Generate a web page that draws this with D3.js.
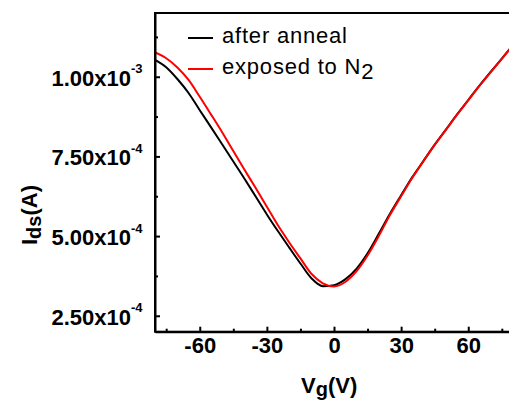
<!DOCTYPE html>
<html>
<head>
<meta charset="utf-8">
<script src="https://cdn.jsdelivr.net/npm/d3@7"></script>
<style>
  html, body { margin: 0; padding: 0; background: #fff; }
  svg { display: block; }
  text { font-family: "Liberation Sans", Arial, sans-serif; }
</style>
</head>
<body>
<svg id="chart" width="509" height="400"></svg>
<script>
// ---- data ----
const gateVoltage = [-80,-75,-70,-65,-60,-55,-50,-45,-40,-35,-30,-25,-20,-15,-10,-5,0,5,10,15,20,25,30,35,40,45,50,55,60,65,70,75,80];
const afterAnneal = [1.053e-3,1.030e-3,0.993e-3,0.949e-3,0.895e-3,0.842e-3,0.788e-3,0.734e-3,0.680e-3,0.624e-3,0.568e-3,0.515e-3,0.464e-3,0.414e-3,0.367e-3,0.343e-3,0.346e-3,0.364e-3,0.397e-3,0.446e-3,0.507e-3,0.570e-3,0.628e-3,0.685e-3,0.736e-3,0.787e-3,0.834e-3,0.882e-3,0.927e-3,0.972e-3,1.015e-3,1.057e-3,1.100e-3];
const exposedN2 = [1.076e-3,1.058e-3,1.029e-3,0.990e-3,0.937e-3,0.882e-3,0.826e-3,0.767e-3,0.708e-3,0.651e-3,0.592e-3,0.533e-3,0.480e-3,0.430e-3,0.381e-3,0.352e-3,0.342e-3,0.356e-3,0.389e-3,0.439e-3,0.500e-3,0.566e-3,0.625e-3,0.683e-3,0.735e-3,0.786e-3,0.833e-3,0.881e-3,0.926e-3,0.971e-3,1.014e-3,1.056e-3,1.099e-3];
const seriesNames = ["after anneal", "exposed to N"];
const seriesColors = ["#000000", "#ff0000"];
const xMajorTicks = [-60,-30,0,30,60];
const xMinorTicks = [-75,-45,-15,15,45,75];
const yMajorTicks = [2.5e-4,5.0e-4,7.5e-4,1.0e-3];
const yMinorTicks = [3.75e-4,6.25e-4,8.75e-4,1.125e-3];

// ---- layout ----
const svg = d3.select("#chart");
const L = 155, R = 513, T = 13, B = 331.7;
const x = d3.scaleLinear().domain([-80, 80]).range([L, R]);
const y = d3.scaleLinear().domain([2.0e-4, 1.2e-3]).range([B, T]);
const FONT = "Liberation Sans, Arial, sans-serif";

// frame
svg.append("rect").attr("x", L).attr("y", T).attr("width", R - L).attr("height", B - T)
  .attr("fill", "none").attr("stroke", "#000").attr("stroke-width", 2);

// curves
const line = d3.line().x((d, i) => x(gateVoltage[i])).y(d => y(d)).curve(d3.curveMonotoneX);
svg.append("clipPath").attr("id", "clip").append("rect")
  .attr("x", L).attr("y", T).attr("width", R - L).attr("height", B - T);
[afterAnneal, exposedN2].forEach((s, k) => {
  svg.append("path").datum(s).attr("d", line).attr("fill", "none")
    .attr("stroke", seriesColors[k]).attr("stroke-width", 2).attr("clip-path", "url(#clip)");
});

// x axis
const xAxis = svg.append("g").attr("transform", `translate(0,${B})`)
  .call(d3.axisBottom(x).tickValues(xMajorTicks).tickSize(-5).tickPadding(6).tickSizeOuter(0)
    .tickFormat(d => String(d)));
xAxis.select(".domain").attr("stroke-width", 2);
xAxis.selectAll(".tick line").attr("stroke-width", 2);
xAxis.selectAll(".tick text").attr("font-size", 22).attr("font-weight", "bold")
  .attr("fill", "#000").attr("font-family", FONT);
const xMinor = svg.append("g").attr("transform", `translate(0,${B})`)
  .call(d3.axisBottom(x).tickValues(xMinorTicks).tickSize(-3).tickFormat("").tickSizeOuter(0));
xMinor.select(".domain").remove();
xMinor.selectAll(".tick line").attr("stroke-width", 2);

// y axis
const yAxis = svg.append("g").attr("transform", `translate(${L},0)`)
  .call(d3.axisLeft(y).tickValues(yMajorTicks).tickSize(-5).tickPadding(24).tickSizeOuter(0).tickFormat(""));
yAxis.select(".domain").attr("stroke-width", 2);
yAxis.selectAll(".tick line").attr("stroke-width", 2);
yAxis.selectAll(".tick text").each(function(d) {
  const e = Math.floor(Math.log10(d) + 1e-9);
  const m = (d / Math.pow(10, e)).toFixed(2);
  d3.select(this).attr("font-weight", "bold").attr("fill", "#000")
    .attr("font-family", FONT).attr("font-size", 22)
    .attr("text-anchor", "end").attr("x", -24).attr("dy", "0.38em")
    .text(m + "x10");
  d3.select(this.parentNode).append("text")
    .attr("x", -24).attr("y", -4).attr("font-size", 13).attr("font-weight", "bold")
    .attr("fill", "#000").attr("text-anchor", "start").attr("font-family", FONT)
    .text(String(e));
});
const yMinor = svg.append("g").attr("transform", `translate(${L},0)`)
  .call(d3.axisLeft(y).tickValues(yMinorTicks).tickSize(-3).tickFormat("").tickSizeOuter(0));
yMinor.select(".domain").remove();
yMinor.selectAll(".tick line").attr("stroke-width", 2);

// axis titles
const xt = svg.append("text").attr("x", 301).attr("y", 393).attr("font-size", 22)
  .attr("font-weight", "bold").attr("fill", "#000");
xt.append("tspan").text("V");
xt.append("tspan").attr("font-size", 20).attr("dy", 3).text("g");
xt.append("tspan").attr("dy", -3).text("(V)");

const yt = svg.append("text").attr("transform", "translate(37,245) rotate(-90)")
  .attr("font-size", 22).attr("font-weight", "bold").attr("fill", "#000");
yt.append("tspan").text("I");
yt.append("tspan").attr("font-size", 20).attr("dy", 4).text("ds");
yt.append("tspan").attr("dy", -4).text("(A)");

// legend
const legY = [38, 69];
seriesNames.forEach((n, k) => {
  svg.append("line").attr("x1", 188).attr("x2", 213).attr("y1", legY[k]).attr("y2", legY[k])
    .attr("stroke", seriesColors[k]).attr("stroke-width", 2);
  const t = svg.append("text").attr("x", 222).attr("y", legY[k] + 4.5)
    .attr("font-size", 22).attr("letter-spacing", 0.8).attr("fill", "#000");
  t.append("tspan").text(n);
  if (k === 1) t.append("tspan").attr("dy", 5).text("2");
});
</script>
</body>
</html>
